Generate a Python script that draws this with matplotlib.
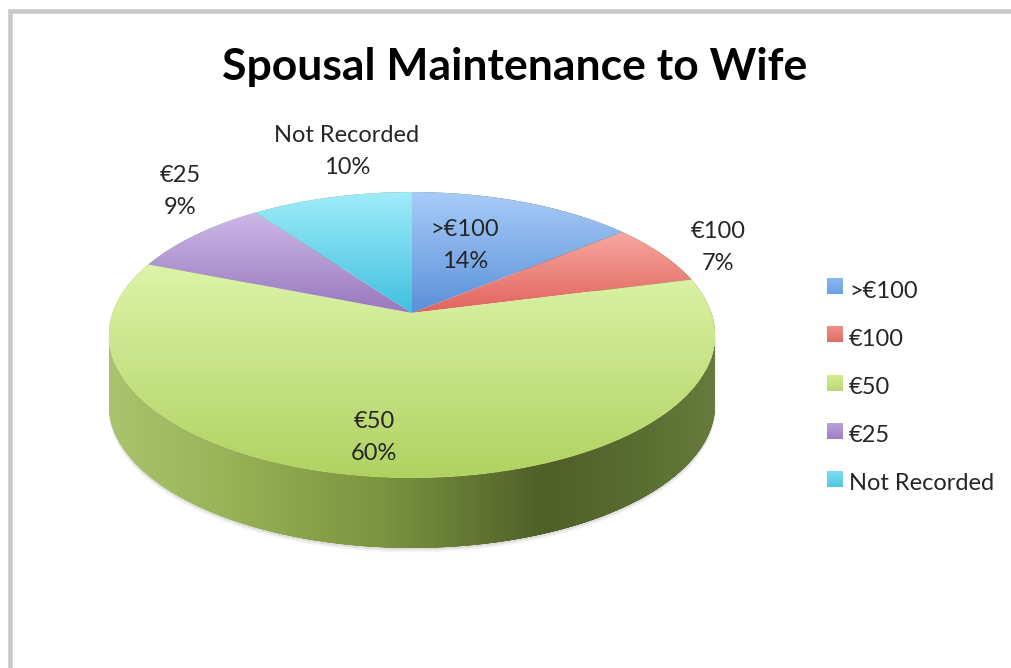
import numpy as np
import matplotlib
matplotlib.use('Agg')
import matplotlib.pyplot as plt
from matplotlib.colors import LinearSegmentedColormap
from matplotlib.patches import PathPatch, Rectangle
from matplotlib.path import Path

labels = ['>€100', '€100', '€50', '€25', 'Not Recorded']
shares = [14, 7, 60, 9, 10]
top_colors = ['#a8ccf8', '#f8a8a2', '#dcf4a8', '#cdb8e8', '#a0ecfa']
low_colors = ['#5a90d8', '#e0645c', '#b0d262', '#9878bc', '#40c0de']
legend_top = ['#8ab8f0', '#f09088', '#d0ec90', '#b8a0dc', '#80dcf0']
legend_low = ['#6c9fe0', '#e06c64', '#bcd878', '#9c80c4', '#50c8e4']
label_pos = [(465, 245), (718, 247), (374, 437), (180, 191), (347, 151)]

plt.rcParams['font.family'] = ['Lato', 'DejaVu Sans']

W, H = 1011, 668
fig = plt.figure(figsize=(W / 100, H / 100), dpi=100)
ax = fig.add_axes([0, 0, 1, 1])
ax.axis('off')

# pie geometry in pixels, with a simple perspective so the apex sits above the ellipse centre
cx, cy = 412, 313
a, b, k = 299.5, 139.6, 0.154
depth = 70


def project(pts):
    w = 1 + k * pts[:, 1]
    return np.column_stack([cx + a * pts[:, 0] / w, cy - b * pts[:, 1] / w])


def gradient_fill(verts, c0, c1, zorder=3):
    cmap = LinearSegmentedColormap.from_list('grad', [c0, c1])
    ramp = np.linspace(0, 1, 256)[:, None]
    im = ax.imshow(ramp, cmap=cmap, aspect='auto', zorder=zorder,
                   extent=[verts[:, 0].min(), verts[:, 0].max(),
                           verts[:, 1].max(), verts[:, 1].min()])
    im.set_clip_path(PathPatch(Path(verts), transform=ax.transData))


# frame of the chart area
ax.add_patch(Rectangle((9.5, 10.5), W + 20, H + 20, fc='white', ec='#c9c9c9', lw=3.3))

# unit pie on a hidden axes gives the slice angles, reprojected below
hidden = fig.add_axes([0, 0, 0.01, 0.01])
wedges, _ = hidden.pie(shares, startangle=90, counterclock=False, radius=1)
hidden.set_visible(False)

t = np.radians(np.linspace(0, 360, 1441))
rim = project(np.column_stack([np.cos(t), np.sin(t)]))
right = rim[:, 0].argmax()
left = rim[:, 0].argmin()
# lower half of the rim runs from left to right through the bottom
lower = np.concatenate([rim[left:], rim[1:right + 1]])
wall = np.vstack([lower, (lower + [0, depth])[::-1]])

# faint shadow under the wall
for grow, alpha in [(4, 0.05), (2, 0.08)]:
    ax.fill(wall[:, 0], wall[:, 1] + grow, color='black', alpha=alpha, lw=0, zorder=1)

# wall of the green slice
wall_cmap = LinearSegmentedColormap.from_list('wall', [
    (0, '#a9c46c'), (0.2, '#98b257'), (0.45, '#7a9440'),
    (0.72, '#4f5f28'), (0.88, '#5a6e32'), (1, '#667b3c')])
wall_im = ax.imshow(np.linspace(0, 1, 256)[None, :], cmap=wall_cmap, aspect='auto', zorder=2,
                    extent=[wall[:, 0].min(), wall[:, 0].max(),
                            wall[:, 1].max(), wall[:, 1].min()])
wall_im.set_clip_path(PathPatch(Path(wall), transform=ax.transData))

# top face, each slice with a vertical gradient
for wedge, c0, c1 in zip(wedges, top_colors, low_colors):
    th = np.radians(np.linspace(wedge.theta1, wedge.theta2, 400))
    unit = np.vstack([[[0, 0]], np.column_stack([np.cos(th), np.sin(th)]), [[0, 0]]])
    gradient_fill(project(unit), c0, c1)

# data labels
for name, share, (x, y) in zip(labels, shares, label_pos):
    ax.text(x, y - 16, name, ha='center', va='center', fontsize=17, color='#262626', zorder=5)
    ax.text(x, y + 16, f'{share}%', ha='center', va='center', fontsize=17, color='#262626', zorder=5)

# legend
legend_y = [286, 334, 383, 431, 479]
for name, c0, c1, y in zip(labels, legend_top, legend_low, legend_y):
    box = np.array([[827, y - 8], [843, y - 8], [843, y + 8], [827, y + 8], [827, y - 8]], float)
    gradient_fill(box, c0, c1, zorder=5)
    ax.text(849, y + 5, name, ha='left', va='center', fontsize=17, color='#262626', zorder=5)

ax.text(515, 67, 'Spousal Maintenance to Wife', ha='center', va='center',
        fontsize=32, fontweight='bold', color='black', zorder=5)

ax.set_xlim(0, W)
ax.set_ylim(H, 0)

fig.savefig('out.png', dpi=100)
